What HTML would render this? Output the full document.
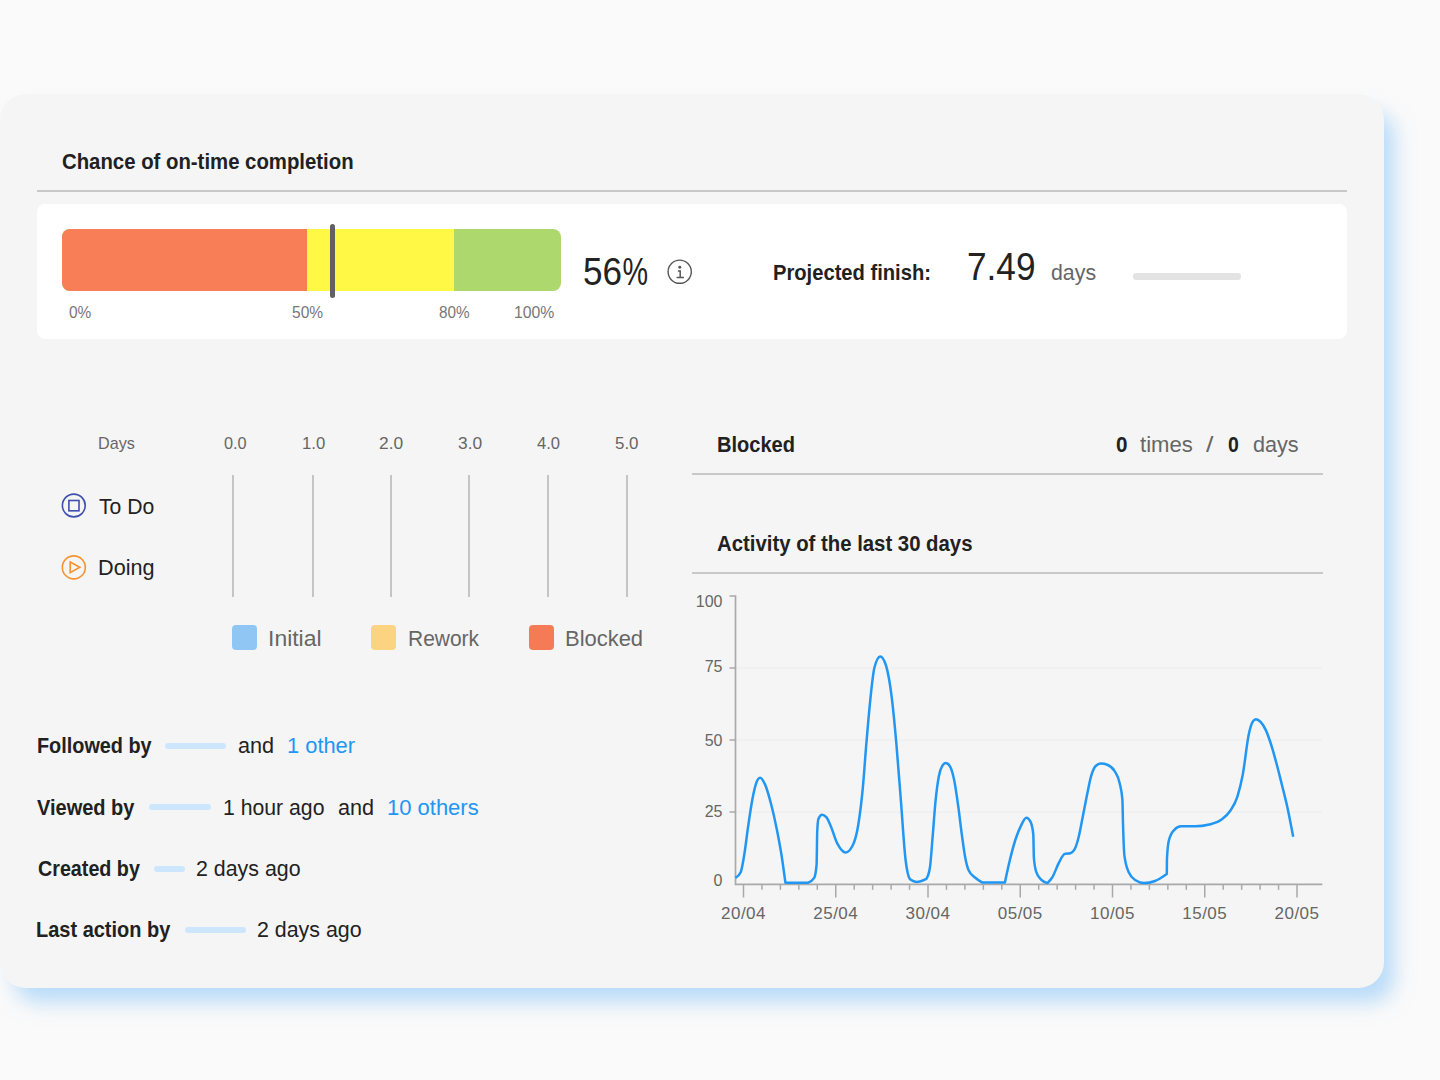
<!DOCTYPE html>
<html><head><meta charset="utf-8"><title>Card</title>
<style>
html,body{margin:0;padding:0;}
body{width:1440px;height:1080px;overflow:hidden;background:#fafafa;position:relative;font-family:"Liberation Sans",sans-serif;}
.card{position:absolute;left:0;top:94px;width:1384px;height:894px;background:#f5f5f5;border-radius:26px;box-shadow:12px 16px 20px -2px rgba(144,200,248,0.62);}
.t{position:absolute;white-space:nowrap;transform-origin:0 0;}
.r{position:absolute;}
svg{position:absolute;left:0;top:0;}
</style></head><body>
<div class="card"></div>
<div class="r" style="left:37px;top:190px;width:1310px;height:2px;background:#c8c8c8;"></div>
<div class="r" style="left:37px;top:204px;width:1310px;height:135px;background:#ffffff;border-radius:8px;"></div>
<div class="r" style="left:62px;top:229px;width:499px;height:61.5px;border-radius:8px;overflow:hidden;background:#acd86e"><div class="r" style="left:0;top:0;width:245.3px;height:100%;background:#f77e56"></div><div class="r" style="left:245.3px;top:0;width:146.4px;height:100%;background:#fff845"></div></div>
<div class="r" style="left:330px;top:224px;width:5px;height:74px;background:#616161;border-radius:2.5px;"></div>
<div class="r" style="left:1133px;top:273px;width:108px;height:6.5px;background:#e3e3e3;border-radius:3.25px;"></div>
<div class="r" style="left:692px;top:473px;width:630.5px;height:2px;background:#c8c8c8;"></div>
<div class="r" style="left:692px;top:571.5px;width:630.5px;height:2px;background:#c8c8c8;"></div>
<div class="r" style="left:231.9px;top:475px;width:2px;height:122px;background:#c4c4c4;"></div>
<div class="r" style="left:311.9px;top:475px;width:2px;height:122px;background:#c4c4c4;"></div>
<div class="r" style="left:390.25px;top:475px;width:2px;height:122px;background:#c4c4c4;"></div>
<div class="r" style="left:468.4px;top:475px;width:2px;height:122px;background:#c4c4c4;"></div>
<div class="r" style="left:547.1px;top:475px;width:2px;height:122px;background:#c4c4c4;"></div>
<div class="r" style="left:625.6px;top:475px;width:2px;height:122px;background:#c4c4c4;"></div>
<div class="r" style="left:232px;top:625px;width:25px;height:24.5px;background:#90c6f4;border-radius:4px;"></div>
<div class="r" style="left:370.5px;top:625px;width:25px;height:24.5px;background:#fcd380;border-radius:4px;"></div>
<div class="r" style="left:528.8px;top:625px;width:25px;height:24.5px;background:#f47b55;border-radius:4px;"></div>
<div class="r" style="left:164.5px;top:742.6px;width:61.5px;height:6.2px;background:#cbe6fd;border-radius:3.1px;"></div>
<div class="r" style="left:149.2px;top:803.9px;width:61.60000000000002px;height:6.2px;background:#cbe6fd;border-radius:3.1px;"></div>
<div class="r" style="left:154px;top:865.5px;width:30.69999999999999px;height:6.2px;background:#cbe6fd;border-radius:3.1px;"></div>
<div class="r" style="left:184.7px;top:926.9px;width:61.30000000000001px;height:6.2px;background:#cbe6fd;border-radius:3.1px;"></div>
<div class="t" id="title" style="left:62.09px;top:151.15px;font-size:22.5px;line-height:22.5px;font-weight:700;color:#212121;transform:scaleX(0.9041);">Chance of on-time completion</div>
<div class="t" id="p0" style="left:68.76px;top:304.24px;font-size:17.2px;line-height:17.2px;color:#777;transform:scaleX(0.8978);">0%</div>
<div class="t" id="p50" style="left:292.29px;top:304.24px;font-size:17.2px;line-height:17.2px;color:#777;transform:scaleX(0.9041);">50%</div>
<div class="t" id="p80" style="left:438.83px;top:304.24px;font-size:17.2px;line-height:17.2px;color:#777;transform:scaleX(0.8904);">80%</div>
<div class="t" id="p100" style="left:514.08px;top:304.24px;font-size:17.2px;line-height:17.2px;color:#777;transform:scaleX(0.9190);">100%</div>
<div class="t" id="pf" style="left:772.53px;top:261.55px;font-size:22.5px;line-height:22.5px;font-weight:700;color:#212121;transform:scaleX(0.8960);">Projected finish:</div>
<div class="t" id="v749" style="left:967.31px;top:247.63px;font-size:38px;line-height:38px;color:#222;transform:scaleX(0.9264);">7.49</div>
<div class="t" id="days1" style="left:1050.52px;top:261.75px;font-size:22.5px;line-height:22.5px;color:#666;transform:scaleX(0.9476);">days</div>
<div class="t" id="Days" style="left:98.36px;top:435.41px;font-size:17px;line-height:17px;color:#666;transform:scaleX(0.9516);">Days</div>
<div class="t" id="todo" style="left:99.13px;top:495.95px;font-size:22.5px;line-height:22.5px;color:#222;transform:scaleX(0.9407);">To Do</div>
<div class="t" id="doing" style="left:98.04px;top:557.35px;font-size:22.5px;line-height:22.5px;color:#222;transform:scaleX(0.9617);">Doing</div>
<div class="t" id="lg1" style="left:267.58px;top:627.75px;font-size:22.5px;line-height:22.5px;color:#666;transform:scaleX(1.0200);">Initial</div>
<div class="t" id="lg2" style="left:407.87px;top:627.75px;font-size:22.5px;line-height:22.5px;color:#666;transform:scaleX(0.9319);">Rework</div>
<div class="t" id="lg3" style="left:565.12px;top:627.75px;font-size:22.5px;line-height:22.5px;color:#666;transform:scaleX(0.9754);">Blocked</div>
<div class="t" id="blk" style="left:716.66px;top:433.95px;font-size:22.5px;line-height:22.5px;font-weight:700;color:#212121;transform:scaleX(0.8909);">Blocked</div>
<div class="t" id="z1" style="left:1115.71px;top:433.95px;font-size:22.5px;line-height:22.5px;font-weight:700;color:#212121;transform:scaleX(0.9167);">0</div>
<div class="t" id="times" style="left:1140.00px;top:433.95px;font-size:22.5px;line-height:22.5px;color:#666;transform:scaleX(0.9818);">times</div>
<div class="t" id="slash" style="left:1206.00px;top:433.95px;font-size:22.5px;line-height:22.5px;color:#666;transform:scaleX(1.1852);">/</div>
<div class="t" id="z2" style="left:1227.53px;top:433.95px;font-size:22.5px;line-height:22.5px;font-weight:700;color:#212121;transform:scaleX(0.8635);">0</div>
<div class="t" id="days2" style="left:1252.76px;top:433.95px;font-size:22.5px;line-height:22.5px;color:#666;transform:scaleX(0.9611);">days</div>
<div class="t" id="act" style="left:717.00px;top:532.55px;font-size:22.5px;line-height:22.5px;font-weight:700;color:#212121;transform:scaleX(0.9040);">Activity of the last 30 days</div>
<div class="t" id="fol" style="left:36.55px;top:735.35px;font-size:22.5px;line-height:22.5px;font-weight:700;color:#212121;transform:scaleX(0.8817);">Followed by</div>
<div class="t" id="and1" style="left:237.81px;top:735.35px;font-size:22.5px;line-height:22.5px;color:#222;transform:scaleX(0.9606);">and</div>
<div class="t" id="oth1" style="left:286.86px;top:735.35px;font-size:22.5px;line-height:22.5px;color:#2196f3;transform:scaleX(0.9712);">1 other</div>
<div class="t" id="vie" style="left:37.35px;top:796.95px;font-size:22.5px;line-height:22.5px;font-weight:700;color:#212121;transform:scaleX(0.8885);">Viewed by</div>
<div class="t" id="hour" style="left:223.46px;top:796.95px;font-size:22.5px;line-height:22.5px;color:#222;transform:scaleX(0.9430);">1 hour ago</div>
<div class="t" id="and2" style="left:337.81px;top:796.95px;font-size:22.5px;line-height:22.5px;color:#222;transform:scaleX(0.9606);">and</div>
<div class="t" id="oth2" style="left:386.54px;top:796.95px;font-size:22.5px;line-height:22.5px;color:#2196f3;transform:scaleX(0.9771);">10 others</div>
<div class="t" id="cre" style="left:38.22px;top:857.75px;font-size:22.5px;line-height:22.5px;font-weight:700;color:#212121;transform:scaleX(0.8760);">Created by</div>
<div class="t" id="d2a" style="left:195.85px;top:857.75px;font-size:22.5px;line-height:22.5px;color:#222;transform:scaleX(0.9497);">2 days ago</div>
<div class="t" id="las" style="left:36.32px;top:919.15px;font-size:22.5px;line-height:22.5px;font-weight:700;color:#212121;transform:scaleX(0.8880);">Last action by</div>
<div class="t" id="d2b" style="left:257.44px;top:919.15px;font-size:22.5px;line-height:22.5px;color:#222;transform:scaleX(0.9501);">2 days ago</div>
<div class="t" id="t0" style="left:224.00px;top:435.41px;font-size:17px;line-height:17px;color:#666;transform:scaleX(0.9584);">0.0</div>
<div class="t" id="t1" style="left:302.12px;top:435.41px;font-size:17px;line-height:17px;color:#666;transform:scaleX(0.9833);">1.0</div>
<div class="t" id="t2" style="left:378.82px;top:435.41px;font-size:17px;line-height:17px;color:#666;transform:scaleX(1.0207);">2.0</div>
<div class="t" id="t3" style="left:458.20px;top:435.41px;font-size:17px;line-height:17px;color:#666;transform:scaleX(1.0207);">3.0</div>
<div class="t" id="t4" style="left:537.39px;top:435.41px;font-size:17px;line-height:17px;color:#666;transform:scaleX(0.9749);">4.0</div>
<div class="t" id="t5" style="left:614.83px;top:435.41px;font-size:17px;line-height:17px;color:#666;transform:scaleX(0.9949);">5.0</div>
<div class="t" id="p56" style="left:583.10px;top:252.19px;font-size:39px;line-height:39px;color:#222;transform:scaleX(0.8991);">56<span style="display:inline-block;transform:scaleX(0.82);transform-origin:0 0;margin-left:1px">%</span></div>
<svg width="1440" height="1080" viewBox="0 0 1440 1080">
<circle cx="679.7" cy="271.7" r="11.6" fill="none" stroke="#555" stroke-width="1.4"/>
<circle cx="679.8" cy="267.2" r="1.45" fill="#555"/>
<path d="M677.9,270.9 H680.2 V277.3 M676.6,277.5 H684" fill="none" stroke="#555" stroke-width="1.5"/>
<circle cx="73.8" cy="505.5" r="11.4" fill="none" stroke="#3f4fb0" stroke-width="1.6"/>
<rect x="68.9" y="500.5" width="10.1" height="10.3" fill="none" stroke="#3f4fb0" stroke-width="1.6"/>
<circle cx="73.8" cy="567.4" r="11.5" fill="none" stroke="#f5922e" stroke-width="1.6"/>
<path d="M70.2,562 L79.8,567.3 L70.2,572.6 Z" fill="none" stroke="#f5922e" stroke-width="1.6" stroke-linejoin="miter"/>
<line x1="736.5" y1="668" x2="1322" y2="668" stroke="#ececec" stroke-width="1"/>
<line x1="736.5" y1="740" x2="1322" y2="740" stroke="#ececec" stroke-width="1"/>
<line x1="736.5" y1="812" x2="1322" y2="812" stroke="#ececec" stroke-width="1"/>
<path d="M729.5,596 H735.5 V884.4 H1322.3" fill="none" stroke="#a9a9a9" stroke-width="1.7"/>
<line x1="729.5" y1="668" x2="735.5" y2="668" stroke="#a9a9a9" stroke-width="1.5"/>
<line x1="729.5" y1="740" x2="735.5" y2="740" stroke="#a9a9a9" stroke-width="1.5"/>
<line x1="729.5" y1="812" x2="735.5" y2="812" stroke="#a9a9a9" stroke-width="1.5"/>
<line x1="743.50" y1="884.4" x2="743.50" y2="897.5" stroke="#a9a9a9" stroke-width="1.5"/>
<line x1="761.95" y1="884.4" x2="761.95" y2="889.8" stroke="#a9a9a9" stroke-width="1.5"/>
<line x1="780.40" y1="884.4" x2="780.40" y2="889.8" stroke="#a9a9a9" stroke-width="1.5"/>
<line x1="798.85" y1="884.4" x2="798.85" y2="889.8" stroke="#a9a9a9" stroke-width="1.5"/>
<line x1="817.30" y1="884.4" x2="817.30" y2="889.8" stroke="#a9a9a9" stroke-width="1.5"/>
<line x1="835.75" y1="884.4" x2="835.75" y2="897.5" stroke="#a9a9a9" stroke-width="1.5"/>
<line x1="854.20" y1="884.4" x2="854.20" y2="889.8" stroke="#a9a9a9" stroke-width="1.5"/>
<line x1="872.65" y1="884.4" x2="872.65" y2="889.8" stroke="#a9a9a9" stroke-width="1.5"/>
<line x1="891.10" y1="884.4" x2="891.10" y2="889.8" stroke="#a9a9a9" stroke-width="1.5"/>
<line x1="909.55" y1="884.4" x2="909.55" y2="889.8" stroke="#a9a9a9" stroke-width="1.5"/>
<line x1="928.00" y1="884.4" x2="928.00" y2="897.5" stroke="#a9a9a9" stroke-width="1.5"/>
<line x1="946.45" y1="884.4" x2="946.45" y2="889.8" stroke="#a9a9a9" stroke-width="1.5"/>
<line x1="964.90" y1="884.4" x2="964.90" y2="889.8" stroke="#a9a9a9" stroke-width="1.5"/>
<line x1="983.35" y1="884.4" x2="983.35" y2="889.8" stroke="#a9a9a9" stroke-width="1.5"/>
<line x1="1001.80" y1="884.4" x2="1001.80" y2="889.8" stroke="#a9a9a9" stroke-width="1.5"/>
<line x1="1020.25" y1="884.4" x2="1020.25" y2="897.5" stroke="#a9a9a9" stroke-width="1.5"/>
<line x1="1038.70" y1="884.4" x2="1038.70" y2="889.8" stroke="#a9a9a9" stroke-width="1.5"/>
<line x1="1057.15" y1="884.4" x2="1057.15" y2="889.8" stroke="#a9a9a9" stroke-width="1.5"/>
<line x1="1075.60" y1="884.4" x2="1075.60" y2="889.8" stroke="#a9a9a9" stroke-width="1.5"/>
<line x1="1094.05" y1="884.4" x2="1094.05" y2="889.8" stroke="#a9a9a9" stroke-width="1.5"/>
<line x1="1112.50" y1="884.4" x2="1112.50" y2="897.5" stroke="#a9a9a9" stroke-width="1.5"/>
<line x1="1130.95" y1="884.4" x2="1130.95" y2="889.8" stroke="#a9a9a9" stroke-width="1.5"/>
<line x1="1149.40" y1="884.4" x2="1149.40" y2="889.8" stroke="#a9a9a9" stroke-width="1.5"/>
<line x1="1167.85" y1="884.4" x2="1167.85" y2="889.8" stroke="#a9a9a9" stroke-width="1.5"/>
<line x1="1186.30" y1="884.4" x2="1186.30" y2="889.8" stroke="#a9a9a9" stroke-width="1.5"/>
<line x1="1204.75" y1="884.4" x2="1204.75" y2="897.5" stroke="#a9a9a9" stroke-width="1.5"/>
<line x1="1223.20" y1="884.4" x2="1223.20" y2="889.8" stroke="#a9a9a9" stroke-width="1.5"/>
<line x1="1241.65" y1="884.4" x2="1241.65" y2="889.8" stroke="#a9a9a9" stroke-width="1.5"/>
<line x1="1260.10" y1="884.4" x2="1260.10" y2="889.8" stroke="#a9a9a9" stroke-width="1.5"/>
<line x1="1278.55" y1="884.4" x2="1278.55" y2="889.8" stroke="#a9a9a9" stroke-width="1.5"/>
<line x1="1297.00" y1="884.4" x2="1297.00" y2="897.5" stroke="#a9a9a9" stroke-width="1.5"/>
<text x="722.5" y="606.7" text-anchor="end" font-family="Liberation Sans" font-size="16" fill="#666">100</text>
<text x="722.5" y="671.8" text-anchor="end" font-family="Liberation Sans" font-size="16" fill="#666">75</text>
<text x="722.5" y="745.6" text-anchor="end" font-family="Liberation Sans" font-size="16" fill="#666">50</text>
<text x="722.5" y="816.8" text-anchor="end" font-family="Liberation Sans" font-size="16" fill="#666">25</text>
<text x="722.5" y="885.5" text-anchor="end" font-family="Liberation Sans" font-size="16" fill="#666">0</text>
<text x="743.50" y="919.4" text-anchor="middle" font-family="Liberation Sans" font-size="17" letter-spacing="0.5" fill="#666">20/04</text>
<text x="835.75" y="919.4" text-anchor="middle" font-family="Liberation Sans" font-size="17" letter-spacing="0.5" fill="#666">25/04</text>
<text x="928.00" y="919.4" text-anchor="middle" font-family="Liberation Sans" font-size="17" letter-spacing="0.5" fill="#666">30/04</text>
<text x="1020.25" y="919.4" text-anchor="middle" font-family="Liberation Sans" font-size="17" letter-spacing="0.5" fill="#666">05/05</text>
<text x="1112.50" y="919.4" text-anchor="middle" font-family="Liberation Sans" font-size="17" letter-spacing="0.5" fill="#666">10/05</text>
<text x="1204.75" y="919.4" text-anchor="middle" font-family="Liberation Sans" font-size="17" letter-spacing="0.5" fill="#666">15/05</text>
<text x="1297.00" y="919.4" text-anchor="middle" font-family="Liberation Sans" font-size="17" letter-spacing="0.5" fill="#666">20/05</text>
<path d="M735.4,877.9 C737.20,876.90 739.00,875.90 740.80,871.90 C742.00,869.23 743.20,861.32 744.40,853.90 C745.60,846.48 746.80,835.73 748.00,827.40 C749.43,817.45 750.87,807.29 752.30,799.70 C753.50,793.35 754.70,787.70 755.90,784.10 C757.30,779.90 758.70,777.80 760.10,777.80 C761.70,777.80 763.30,780.66 764.90,784.10 C766.90,788.40 768.90,795.68 770.90,803.30 C772.90,810.92 774.90,819.74 776.90,829.80 C778.50,837.85 780.10,846.01 781.70,856.30 C782.93,864.23 784.17,873.47 785.40,882.70 C789.27,882.70 793.13,882.70 797.00,882.70 C800.73,882.70 804.47,882.70 808.20,882.70 C810.20,881.90 812.20,881.10 814.20,877.90 C815.00,876.62 815.80,873.50 816.60,864.70 C816.80,862.50 817.00,836.60 817.20,832.20 C817.60,823.40 818.00,819.93 818.40,819.00 C819.60,816.20 820.80,814.80 822.00,814.80 C823.43,814.80 824.87,815.60 826.30,817.20 C827.67,818.73 829.03,822.18 830.40,825.20 C832.73,830.35 835.07,839.22 837.40,843.70 C840.10,848.89 842.80,852.50 845.50,852.50 C847.80,852.50 850.10,850.33 852.40,846.00 C854.33,842.36 856.27,836.96 858.20,825.20 C859.73,815.87 861.27,804.37 862.80,788.10 C863.97,775.72 865.13,758.08 866.30,744.20 C867.47,730.32 868.63,716.31 869.80,704.80 C871.33,689.67 872.87,673.77 874.40,667.80 C876.33,660.27 878.27,656.50 880.20,656.50 C882.13,656.50 884.07,659.50 886.00,665.50 C887.93,671.50 889.87,682.27 891.80,697.90 C893.33,710.30 894.87,726.85 896.40,744.20 C897.93,761.55 899.47,782.70 901.00,802.00 C902.53,821.30 904.07,847.48 905.60,860.00 C907.20,873.07 908.80,878.38 910.40,879.60 C912.50,881.20 914.60,882.00 916.70,882.00 C919.93,882.00 923.17,880.45 926.40,878.90 C927.57,877.05 928.73,875.20 929.90,867.80 C930.80,862.09 931.70,847.87 932.60,837.20 C933.53,826.14 934.47,812.05 935.40,802.50 C936.57,790.56 937.73,782.23 938.90,776.10 C940.07,769.97 941.23,767.62 942.40,765.70 C943.53,763.83 944.67,762.90 945.80,762.90 C947.20,762.90 948.60,764.07 950.00,766.40 C951.40,768.73 952.80,773.45 954.20,780.30 C955.57,786.99 956.93,796.81 958.30,806.70 C959.47,815.14 960.63,825.85 961.80,834.40 C962.97,842.95 964.13,851.95 965.30,858.00 C966.45,863.96 967.60,868.06 968.75,870.60 C970.83,875.20 972.92,875.60 975.00,877.50 C977.33,879.63 979.67,881.02 982.00,882.40 C986.00,882.40 990.00,882.40 994.00,882.40 C997.63,882.40 1001.27,882.40 1004.90,882.40 C1006.50,874.91 1008.10,867.42 1009.70,860.80 C1011.57,853.08 1013.43,845.82 1015.30,840.00 C1017.13,834.29 1018.97,829.78 1020.80,826.10 C1022.67,822.35 1024.53,817.80 1026.40,817.80 C1027.80,817.80 1029.20,819.17 1030.60,821.90 C1031.50,823.66 1032.40,826.07 1033.30,834.40 C1033.50,836.25 1033.70,855.63 1033.90,858.00 C1034.68,867.27 1035.47,869.41 1036.25,871.90 C1037.87,877.03 1039.48,877.80 1041.10,879.60 C1043.20,881.93 1045.30,882.52 1047.40,883.10 C1049.00,881.56 1050.60,880.03 1052.20,877.50 C1054.53,873.81 1056.87,866.42 1059.20,862.20 C1061.03,858.89 1062.87,854.36 1064.70,853.90 C1066.57,853.43 1068.43,853.67 1070.30,853.20 C1071.67,852.86 1073.03,852.03 1074.40,849.70 C1075.80,847.31 1077.20,842.75 1078.60,837.20 C1080.00,831.65 1081.40,823.42 1082.80,816.40 C1084.17,809.55 1085.53,802.24 1086.90,795.60 C1088.30,788.80 1089.70,780.97 1091.10,776.10 C1092.73,770.42 1094.37,767.13 1096.00,765.70 C1097.60,764.30 1099.20,763.60 1100.80,763.60 C1103.13,763.60 1105.47,764.07 1107.80,765.00 C1110.10,765.92 1112.40,767.16 1114.70,771.25 C1116.33,774.15 1117.97,775.38 1119.60,783.00 C1120.53,787.36 1121.47,788.57 1122.40,799.70 C1122.60,802.09 1122.80,816.42 1123.00,823.30 C1123.47,839.35 1123.93,851.61 1124.40,855.30 C1125.80,866.37 1127.20,868.54 1128.60,871.90 C1130.93,877.50 1133.27,878.73 1135.60,880.30 C1138.37,882.17 1141.13,883.10 1143.90,883.10 C1147.60,883.10 1151.30,882.40 1155.00,881.00 C1158.93,879.51 1162.87,876.76 1166.80,874.00 C1166.87,866.80 1166.93,859.60 1167.00,858.30 C1167.60,846.57 1168.20,843.10 1168.80,840.70 C1170.57,833.63 1172.33,832.02 1174.10,830.10 C1176.43,827.57 1178.77,826.30 1181.10,826.30 C1185.80,826.30 1190.50,826.30 1195.20,826.30 C1199.87,826.30 1204.53,825.70 1209.20,824.50 C1213.30,823.45 1217.40,822.67 1221.50,819.60 C1224.43,817.40 1227.37,815.33 1230.30,810.80 C1232.67,807.14 1235.03,804.23 1237.40,796.70 C1239.13,791.18 1240.87,784.62 1242.60,775.60 C1244.73,764.50 1246.87,742.66 1249.00,733.30 C1250.17,728.18 1251.33,724.20 1252.50,722.20 C1253.67,720.20 1254.83,719.20 1256.00,719.20 C1257.60,719.20 1259.20,720.45 1260.80,722.20 C1262.43,723.99 1264.07,726.43 1265.70,729.90 C1267.33,733.37 1268.97,738.03 1270.60,743.00 C1272.43,748.58 1274.27,755.24 1276.10,762.00 C1277.97,768.89 1279.83,776.51 1281.70,784.00 C1283.53,791.35 1285.37,798.16 1287.20,806.50 C1289.20,815.60 1291.20,826.20 1293.20,836.80" fill="none" stroke="#2196f3" stroke-width="2.5" stroke-linejoin="round" stroke-linecap="butt"/>
</svg>
</body></html>
